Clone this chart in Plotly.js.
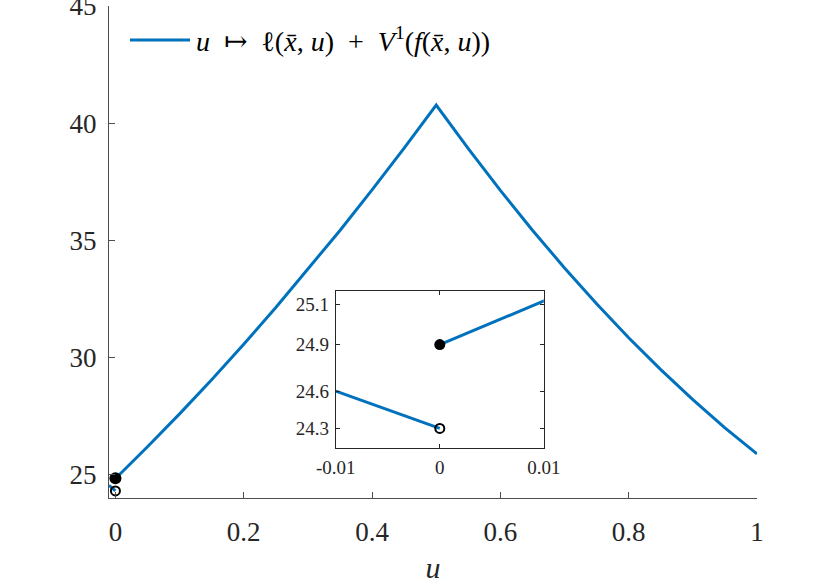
<!DOCTYPE html>
<html>
<head>
<meta charset="utf-8">
<script src="https://cdn.plot.ly/plotly-3.0.1.min.js"></script>
<style>
  html, body { margin: 0; padding: 0; background: #fff; }
  #graph { width: 837px; height: 586px; }
</style>
</head>
<body>
<div id="graph"></div>
<script>
//***** data
// piece left of the jump (u < 0)
var leftU = [-0.01, 0];
var leftV = [24.54, 24.30];
// piece from the jump onwards (u >= 0)
var rightU = [0, 0.01, 0.05, 0.1, 0.15, 0.2, 0.25, 0.3, 0.35, 0.4, 0.45, 0.5,
              0.55, 0.6, 0.65, 0.7, 0.75, 0.8, 0.85, 0.9, 0.95, 1];
var rightV = [24.84, 25.10, 26.19, 27.59, 29.05, 30.56, 32.13, 33.75, 35.42, 37.15, 38.93, 40.77,
              38.91, 37.13, 35.43, 33.82, 32.29, 30.84, 29.48, 28.20, 26.99, 25.88];
// jump points at u = 0
var closedU = [0], closedV = [24.84];
var openU = [0], openV = [24.30];

var mainYTicks = [25, 30, 35, 40, 45];
var mainXTicks = [0, 0.2, 0.4, 0.6, 0.8, 1];
var mainXText = ['0', '0.2', '0.4', '0.6', '0.8', '1'];
var insetXTicks = [-0.01, 0, 0.01];
var insetXText = ['-0.01', '0', '0.01'];
var insetYTicks = [24.30, 24.54, 24.84, 25.10];
var insetYText = ['24.3', '24.6', '24.9', '25.1'];

var legendText = '<i>u</i>\u2002\u21A6\u2002\u2113(<i>x\u0304</i>, <i>u</i>)\u2002+\u2002<i>V</i><sup>1</sup>(<i>f</i>(<i>x\u0304</i>, <i>u</i>))';

var blue = 'rgb(0,114,189)';
var serif = '"Liberation Serif", "DejaVu Serif", serif';
var txt = '#262626';

function pieces(xa, ya, lw, big, small){
  return [
    {x: leftU, y: leftV, xaxis: xa, yaxis: ya, type: 'scatter', mode: 'lines',
     line: {color: blue, width: lw}, showlegend: false, hoverinfo: 'skip'},
    {x: rightU, y: rightV, xaxis: xa, yaxis: ya, type: 'scatter', mode: 'lines',
     line: {color: blue, width: lw}, showlegend: false, hoverinfo: 'skip'},
    {x: closedU, y: closedV, xaxis: xa, yaxis: ya, type: 'scatter', mode: 'markers',
     marker: {color: 'black', size: big, symbol: 'circle'}, showlegend: false, cliponaxis: false},
    {x: openU, y: openV, xaxis: xa, yaxis: ya, type: 'scatter', mode: 'markers',
     marker: {color: 'black', size: small, symbol: 'circle-open', line: {width: 2}}, showlegend: false, cliponaxis: false}
  ];
}

var data = pieces('x', 'y', 3, 12, 9).concat(pieces('x2', 'y2', 3, 11, 9));

var layout = {
  width: 837,
  height: 586,
  margin: {l: 109, r: 80, t: 6, b: 88},
  paper_bgcolor: 'white',
  plot_bgcolor: 'white',
  font: {family: serif, color: txt},
  showlegend: false,
  xaxis: {
    domain: [0, 1],
    range: [-0.01, 1],
    tickvals: mainXTicks,
    ticktext: mainXText,
    ticks: 'inside', ticklen: 6, tickcolor: '#4d4d4d',
    showline: true, linecolor: '#4d4d4d', linewidth: 1,
    showgrid: false, zeroline: false,
    tickfont: {size: 27, family: serif, color: txt},
    ticklabelstandoff: 10,
    ticklabeloverflow: 'allow',
    title: {text: '<i>u</i>', font: {size: 30, family: serif, color: txt}, standoff: 10}
  },
  yaxis: {
    domain: [0, 1],
    range: [24, 45],
    tickvals: mainYTicks,
    ticks: 'inside', ticklen: 6, tickcolor: '#4d4d4d',
    showline: true, linecolor: '#4d4d4d', linewidth: 1,
    showgrid: false, zeroline: false,
    tickfont: {size: 27, family: serif, color: txt},
    ticklabelstandoff: 6,
    ticklabeloverflow: 'allow'
  },
  xaxis2: {
    anchor: 'y2',
    domain: [0.350, 0.671],
    range: [-0.01, 0.01],
    tickvals: insetXTicks,
    ticktext: insetXText,
    ticks: 'inside', ticklen: 4, tickcolor: txt,
    showline: true, mirror: 'ticks', linecolor: txt, linewidth: 1,
    showgrid: false, zeroline: false,
    tickfont: {size: 19, family: serif, color: txt},
    ticklabelstandoff: 2,
    ticklabeloverflow: 'allow'
  },
  yaxis2: {
    anchor: 'x2',
    domain: [0.102, 0.421],
    range: [24.175, 25.186],
    tickvals: insetYTicks,
    ticktext: insetYText,
    ticks: 'inside', ticklen: 4, tickcolor: txt,
    showline: true, mirror: 'ticks', linecolor: txt, linewidth: 1,
    showgrid: false, zeroline: false,
    tickfont: {size: 19, family: serif, color: txt},
    ticklabelstandoff: 2,
    ticklabeloverflow: 'allow'
  },
  // legend drawn by hand so the sample line is as long as in the picture
  shapes: [
    {type: 'line', xref: 'paper', yref: 'paper', x0: 0.0324, x1: 0.125, y0: 0.931, y1: 0.931,
     line: {color: blue, width: 3}}
  ],
  annotations: [
    {xref: 'paper', yref: 'paper', x: 0.131, y: 0.931, xanchor: 'left', yanchor: 'middle',
     text: legendText, showarrow: false, font: {size: 28, family: serif, color: 'black'}}
  ]
};

Plotly.newPlot('graph', data, layout, {staticPlot: true});
</script>
</body>
</html>
